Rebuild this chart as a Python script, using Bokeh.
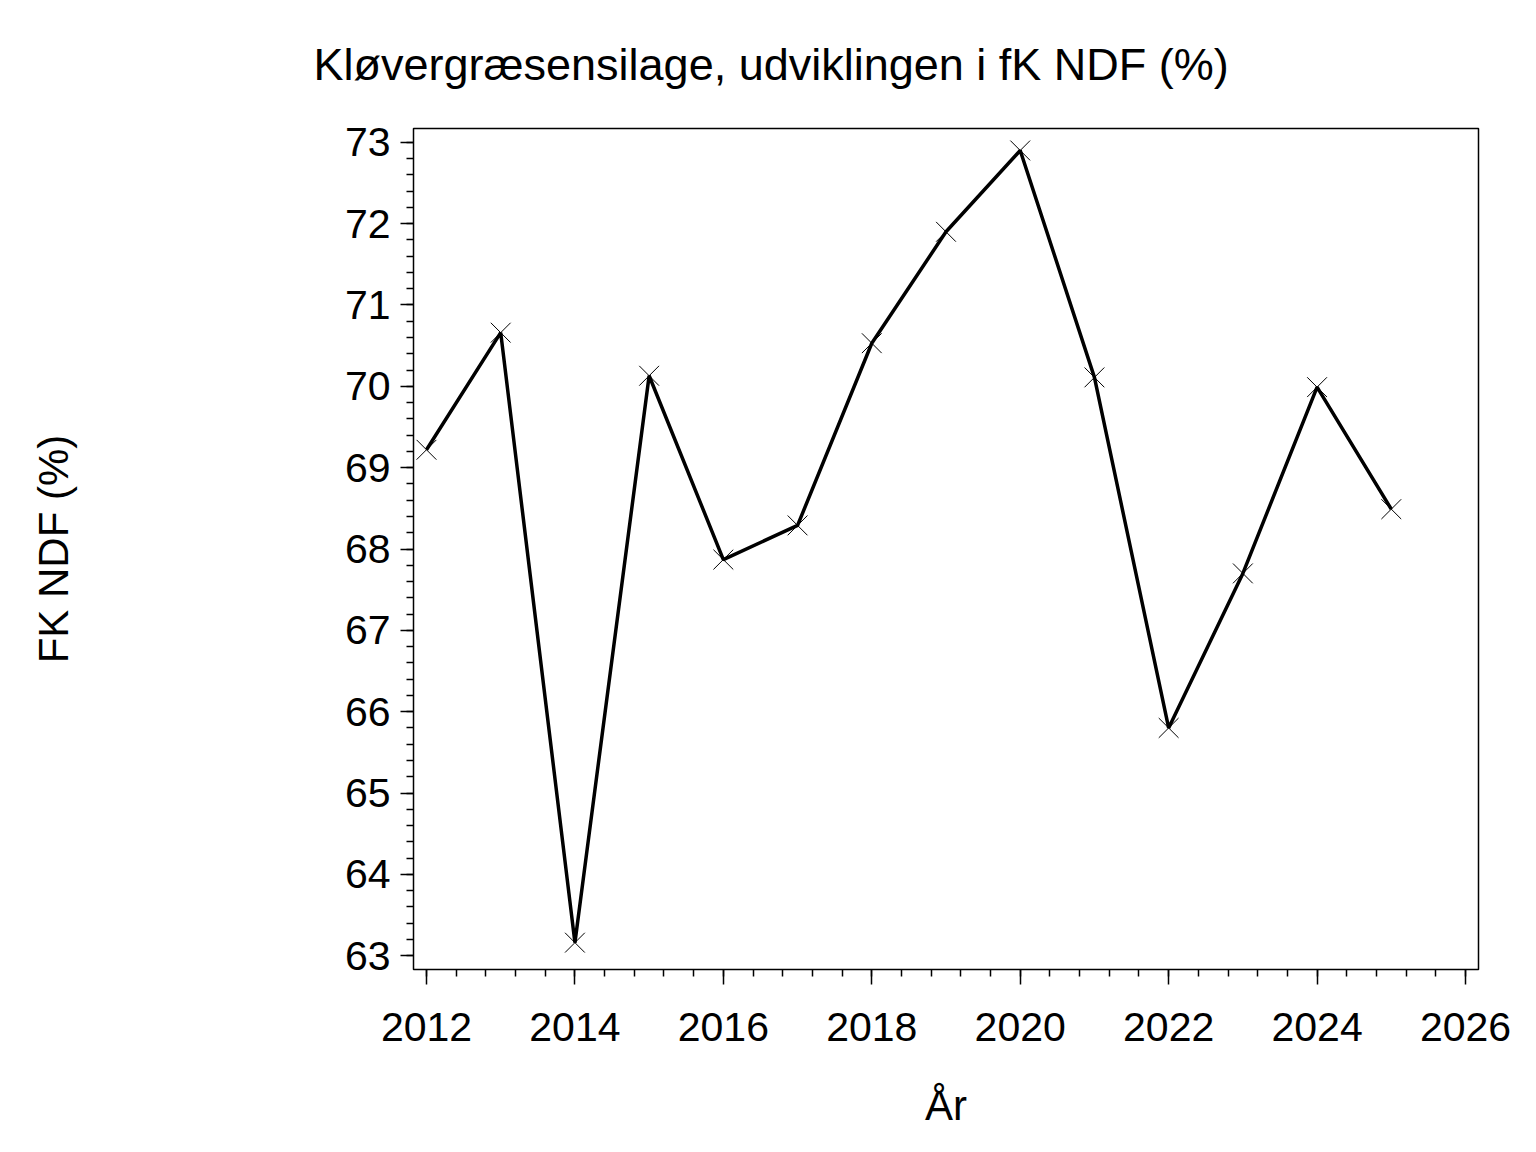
from bokeh.plotting import figure
from bokeh.models import Range1d, FixedTicker
from bokeh.embed import file_html
from bokeh.resources import INLINE

years = [2012, 2013, 2014, 2015, 2016, 2017, 2018, 2019, 2020, 2021, 2022, 2023, 2024, 2025]
ndf = [69.22, 70.66, 63.16, 70.13, 67.87, 68.29, 70.53, 71.90, 72.90, 70.11, 65.80, 67.70, 69.99, 68.49]
x_ticks = [2012, 2014, 2016, 2018, 2020, 2022, 2024, 2026]
y_ticks = [63, 64, 65, 66, 67, 68, 69, 70, 71, 72, 73]
x_minor = [2012 + 0.4 * i for i in range(36)]
y_minor = [round(63 + 0.2 * i, 2) for i in range(51)]

title = "Kløvergræsensilage, udviklingen i fK NDF (%)"
x_label = "År"
y_label = "FK NDF (%)"

FONT = "Liberation Sans"

p = figure(width=1528, height=1144, output_backend="svg", toolbar_location=None,
           x_range=Range1d(2011.825, 2026.175), y_range=Range1d(62.83, 73.17),
           min_border_left=413, min_border_right=50, min_border_top=128, min_border_bottom=175)

p.title.text = title
p.title.text_font = FONT
p.title.text_font_size = "45px"
p.title.text_font_style = "normal"
p.title.text_color = "black"
p.title.align = "left"
p.title.vertical_align = "top"
p.title.offset = -100
p.title.standoff = 74

p.grid.visible = False
p.outline_line_color = "black"
p.outline_line_width = 1.5
p.outline_line_alpha = 1

p.xaxis.ticker = FixedTicker(ticks=x_ticks, minor_ticks=x_minor)
p.yaxis.ticker = FixedTicker(ticks=y_ticks, minor_ticks=y_minor)

for ax in (p.xaxis[0], p.yaxis[0]):
    ax.axis_line_color = "black"
    ax.major_tick_line_color = "black"
    ax.minor_tick_line_color = "black"
    ax.major_tick_line_width = 1.5
    ax.minor_tick_line_width = 1.5
    ax.major_tick_in = 0
    ax.minor_tick_in = 0
    ax.major_label_text_font = FONT
    ax.major_label_text_font_size = "41px"
    ax.major_label_text_color = "black"
    ax.axis_label_text_font = FONT
    ax.axis_label_text_font_size = "42px"
    ax.axis_label_text_font_style = "normal"
    ax.axis_label_text_color = "black"

p.xaxis.major_tick_out = 15
p.xaxis.minor_tick_out = 7
p.yaxis.major_tick_out = 13
p.yaxis.minor_tick_out = 7
p.xaxis.major_label_standoff = 28
p.yaxis.major_label_standoff = 10
p.xaxis.axis_label = x_label
p.yaxis.axis_label = y_label
p.xaxis.axis_label_standoff = 38
p.yaxis.axis_label_standoff = 265

p.line(years, ndf, line_color="black", line_width=3.5)
p.scatter(years, ndf, marker="x", size=28, line_color="black", line_width=1)

open("out.html", "w").write(file_html(p, INLINE))
